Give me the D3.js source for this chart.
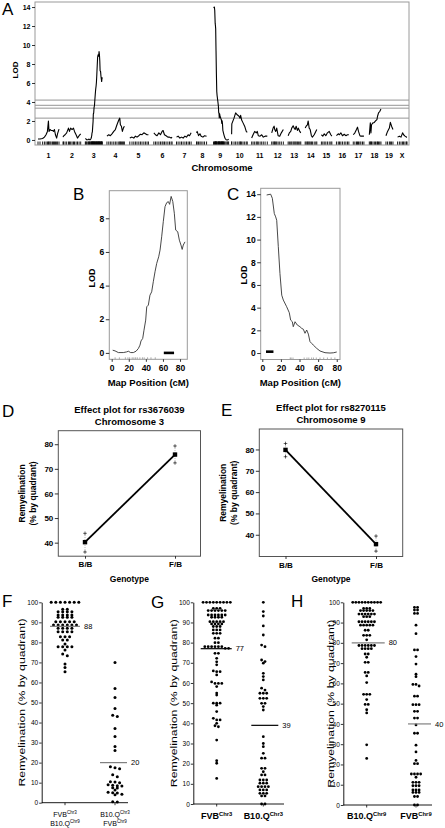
<!DOCTYPE html>
<html><head><meta charset="utf-8">
<script src="https://cdn.jsdelivr.net/npm/d3@7"></script>
<style>
body{margin:0;background:#fff;}
svg{display:block;}
</style></head><body>
<svg id="fig" width="445" height="828"></svg>
<script>
// ---------------- DATA ----------------
const chromNames = ["1","2","3","4","5","6","7","8","9","10","11","12","13","14","15","16","17","18","19","X"];
const chromLengths = [105,90,86,90,100,100,80,60,75,80,80,60,65,60,55,65,55,65,40,50];
const lodTicksA = [0,2,4,6,8,10,12,14];
const thresholds = [4.2, 3.65, 3.35, 2.3];

const lodChr1 = [[0,0.1],[10,0.1],[23,0.15],[32,0.3],[40,0.55],[47,0.9],[52,2.0],[55,0.9],[60,1.1],[65,1.0],[72,1.0],[77,0.9],[82,1.1],[87,0.55],[93,0.2],[98,0.7],[105,1.15]];
const lodChr2 = [[0,0.3],[2,0.4],[10,0.55],[18,0.75],[27,1.25],[32,0.9],[38,1.25],[45,1.1],[52,1.25],[57,0.9],[65,0.55],[72,0.2],[80,0.45],[88,0.65]];
const lodChr3 = [[1.2,0.16],[3.9,0.12],[7.8,0.02],[13.6,0.02],[17.5,0.06],[19.5,0.1],[22.2,0.02],[25.3,0.02],[28.5,0.1],[31.2,0.26],[33.1,0.46],[34.3,0.71],[36.3,0.86],[37.8,1.35],[39.8,1.95],[41,2.74],[42.9,2.84],[44.8,3.43],[46.8,3.63],[48.7,4.23],[50.7,4.82],[52.7,5.32],[55,5.71],[56.6,6.11],[58.5,6.9],[60.4,7.8],[62.4,8.69],[64.4,8.93],[66.3,8.99],[67.8,8.83],[69.6,9.3],[71.5,9.0],[73.3,8.3],[74.9,7.3],[77.3,7.2],[79.2,6.7],[81.1,6.41],[82.5,6.15],[83.8,6.41],[85.8,6.6]];
const lodChr4 = [[3,0.4],[12,0.55],[20,0.45],[28,0.65],[37,0.9],[45,1.1],[53,1.6],[62,2.1],[67,2.3],[70,1.6],[75,1.45],[80,0.9],[85,1.25],[90,1.45]];
const lodChr5 = [[7,0.2],[18,0.3],[27,0.2],[35,0.4],[43,0.3],[52,0.45],[60,0.6],[68,0.55],[77,0.75],[85,0.65],[93,0.55],[100,0.55]];
const lodChr6 = [[7,0.75],[15,0.55],[23,0.45],[32,0.75],[40,0.55],[48,0.9],[53,1.0],[60,0.55],[68,0.45],[77,0.3],[85,0.3],[93,0.2],[98,0.3]];
const lodChr7 = [[0,0.3],[8,0.4],[17,0.2],[25,0.3],[33,0.2],[42,0.4],[50,0.3],[58,0.55],[65,0.45],[73,0.75]];
const lodChr8 = [[0,0.75],[3,0.9],[10,0.45],[17,0.65],[23,0.4],[32,0.3],[40,0.45],[50,0.4]];
const lodChr9 = [[4.7,13.93],[9,14.0],[10.8,13.64],[12.9,12.3],[14.4,12.0],[15.5,11.7],[17.2,9.4],[19,7.0],[20.9,5.1],[22.6,4.67],[26.2,4.08],[29,3.56],[30.5,2.9],[32.3,2.76],[33.3,2.32],[35.2,2.76],[37.6,2.47],[40.5,2.32],[42.4,2.17],[44.1,2.1],[45.9,1.74],[47.7,2.03],[49.5,1.67],[51.3,1.0],[53.1,0.85],[54.8,0.7],[58.5,0.41],[62,0.18],[67.4,0.03],[72.8,0.0],[76.3,0.02],[80,0.09]];
const lodChr10 = [[0,0.6],[1,1.7],[12,2.3],[20,2.85],[28,2.65],[37,2.5],[42,2.3],[45,2.6],[50,2.1],[57,1.8],[65,1.45],[73,0.9],[78,0.8]];
const lodChr11 = [[0,0.2],[7,0.55],[15,0.9],[23,0.75],[28,0.9],[33,0.45],[42,0.4],[50,0.55],[58,0.3],[67,0.4],[78,0.4]];
const lodChr12 = [[0,0.75],[7,1.25],[12,1.45],[15,1.1],[20,0.9],[25,1.25],[32,0.45],[40,0.4],[48,0.75],[58,1.1]];
const lodChr13 = [[2,0.45],[8,0.75],[15,0.9],[20,1.25],[27,1.5],[32,1.25],[37,1.1],[42,1.45],[48,1.0],[53,1.25],[60,0.9],[65,0.75]];
const lodChr14 = [[2,1.25],[7,1.45],[13,1.6],[17,2.0],[22,1.25],[27,1.1],[33,0.45],[38,0.3],[47,0.55],[55,0.9],[60,1.1]];
const lodChr15 = [[3,0.55],[10,0.4],[17,0.65],[25,0.45],[33,0.75],[42,0.9],[50,0.55],[55,0.4]];
const lodChr16 = [[3,0.45],[12,0.65],[18,0.55],[25,0.75],[33,0.45],[42,0.6],[50,0.45],[58,0.55],[65,0.55]];
const lodChr17 = [[2,0.55],[10,0.75],[18,1.1],[23,1.35],[28,0.9],[35,0.45],[40,0.4],[48,0.4],[55,0.4]];
const lodChr18 = [[7,0.55],[12,1.8],[15,0.75],[18,1.6],[25,1.8],[32,1.85],[38,2.0],[45,2.15],[48,2.5],[53,2.85],[59,3.0],[65,3.25]];
const lodChr19 = [[5,0.45],[13,0.9],[22,1.25],[27,1.85],[33,1.45],[40,1.1]];
const lodChrX = [[3,0.3],[12,0.4],[20,0.3],[28,0.75],[33,0.55],[40,0.4],[47,0.3],[50,0.3]];
const lodByChrom = [lodChr1,lodChr2,lodChr3,lodChr4,lodChr5,lodChr6,lodChr7,lodChr8,lodChr9,lodChr10,lodChr11,lodChr12,lodChr13,lodChr14,lodChr15,lodChr16,lodChr17,lodChr18,lodChr19,lodChrX];

const mapTicks = [0,20,40,60,80];
const lodTicksB = [0,2,4,6,8];
const lodTicksC = [0,2,4,6,8,10,12,14];
const markersB = [4,9,16,19,21,24,26,28,30,33,36,38,42,46,51];
const markersC = [30,31,33,45,48,50,53,55,58,62,66,70,74,78];
const intervalB = [61,73];
const intervalC = [4,12];

const genotypes = ["B/B","F/B"];
const effectTicks = [40,50,60,70,80];
const effMean3 = [40.2, 75.8], effLow3 = [36.2, 72.4], effHigh3 = [43.8, 79.3];
const effMean9 = [79.8, 35.6], effLow9 = [76.6, 32.3], effHigh9 = [82.8, 39.4];

const dotTicks = [0,10,20,30,40,50,60,70,80,90,100];
const fLabels = [["FVB","Chr3","B10.Q","Chr9"],["B10.Q","Chr3","FVB","Chr9"]];
const fVals1 = [100,100,100,100,100,100,100,96.5,96.5,95.3,95.3,95.3,95.3,93.7,93.7,93.7,93.7,92.5,92.5,92.5,92.5,90.3,90.3,90.3,90.3,90.3,88.7,88.7,88.7,88.7,88.7,88.7,87,87,87,87,85.3,85.3,85.3,85.3,82.8,82.8,82.8,81.2,81.2,79.2,77.8,77.8,77.8,77.8,76.2,74.2,73.3,69.2,67.5,65.3];
const fVals2 = [70,57,52.5,47,43.7,43,37,33,28,26,18,17.5,17,14,13,10.5,10.3,10,9,8.7,8.5,8.3,7.5,7.3,6.3,5.2,5,4.8,4.2,4,0.5,0.3];
const fMeans = [88,20];
const gLabels = [["FVB","Chr3"],["B10.Q","Chr3"]];
const gVals1 = [100,100,100,100,100,100,100,100,100,97,97,97,95.9,95.9,95.9,95.9,95.9,95.9,93.7,93.7,93.7,93.7,93.7,93.7,92.6,92.6,92.6,92.6,90.4,90.4,90.4,90.4,90.4,89.3,89.3,89.3,89.3,88,88,88,86.3,86.3,86.3,84.6,84.6,84.6,82.2,82.2,80,80,78,78,78,78,78,78,77.2,77.2,74.7,74.7,72.2,70.5,69,66,65.6,65.6,64,60.5,59.8,59.8,59.8,58.2,55,54,50,50,50,49,45.8,42.5,41.7,41.7,40,38.8,38.3,31.7,21.5,20.2,12.7];
const gVals2 = [100,95.4,93.2,88.3,83.8,78.8,78,71.4,70.6,69.8,64.8,63.2,61.5,57.4,56.5,54.9,54.9,54.9,52.4,52.4,52.4,49.9,49.9,48.3,46.6,33.4,30,28.4,25.1,22.7,22.7,17.7,17.7,16,14.4,14.4,11.9,11.9,11.9,10.3,10.3,10.3,8.6,8.6,8.6,8.6,7,7,7,5.3,5.3,5.3,4,4,0,0];
const gMeans = [77,39];
const hLabels = [["B10.Q","Chr9"],["FVB","Chr9"]];
const hVals1 = [100,100,100,100,100,100,100,100,100,100,97,97,97,95.9,95.9,95.9,95.9,95.9,94.2,94.2,94.2,94.2,94.2,94.2,92.9,92.9,92.9,90.4,90.4,90.4,90.4,90.4,90.4,88.7,88.7,88.7,88.7,88.7,86.2,86.2,83.7,83.7,83.7,81.5,78.7,78.7,78.7,78.7,78.7,78.7,77.1,77.1,77.1,77.1,74.5,74.5,72.9,70.4,70.4,65.4,65.4,63.7,60.4,54.6,54.6,54.6,52,49.6,49.6,47,45.4,29.7,23];
const hVals2 = [97.5,97.5,96.2,96.2,94.5,94.5,88.7,84.5,76.5,76.5,73.2,69.5,64.5,63.3,59.5,59.5,58.7,53.7,53.7,49.5,49.5,49.5,46.2,46.2,42.9,42.9,39.5,35.4,35.4,29.5,26.2,22,20.4,20.4,15.3,15.3,15.3,15.3,13.7,11.2,11.2,11.2,9.5,9.5,9.5,7.4,7.4,7.4,6.2,6.2,6.2,4.2,4.2,0,0];
const hMeans = [80,40];

// ---------------- DRAW ----------------
const FONT = '"Liberation Sans", Arial, Helvetica, sans-serif';
const svg = d3.select("#fig").attr("font-family", FONT);

function txt(g, x, y, s, size, opt = {}) {
  const t = g.append("text").attr("x", x).attr("y", y).text(s)
    .attr("font-size", size).attr("fill", "#000")
    .attr("text-anchor", opt.anchor || "start")
    .attr("font-weight", opt.weight || "normal");
  if (opt.rotate) t.attr("transform", `rotate(-90,${x},${y})`);
  return t;
}
function styleAxis(a, size, weight) {
  a.attr("font-family", FONT).attr("font-size", size).attr("font-weight", weight || "bold");
  a.selectAll("line").attr("stroke", "#000").attr("stroke-width", 0.8);
}

// Panel letters
[["A",2,15],["B",73,200],["C",227,200],["D",2,417],["E",221,416],["F",2,607],["G",151,608],["H",291,607]]
  .forEach(([s,x,y]) => txt(svg, x, y, s, 17));

// ---- Panel A ----
(function(){
  const g = svg.append("g");
  const gap = 20;
  const offsets = [];
  let acc = 0;
  chromLengths.forEach(L => { offsets.push(acc); acc += L + gap; });
  const total = acc - gap;
  const x = d3.scaleLinear().domain([0, total]).range([38, 407]);
  const y = d3.scaleLinear().domain([-0.53, 14.53]).range([145, 2]);

  g.selectAll("line.thr").data(thresholds).join("line").attr("class","thr")
    .attr("x1", 35).attr("x2", 409).attr("y1", d => y(d)).attr("y2", d => y(d))
    .attr("stroke", "#7a7a7a").attr("stroke-width", 0.8);

  const line = d3.line();
  lodByChrom.forEach((pts, i) => {
    g.append("path").attr("fill","none").attr("stroke","#000").attr("stroke-width",1.1)
      .attr("stroke-linejoin","round")
      .attr("d", line.x(d => x(offsets[i] + d[0])).y(d => y(d[1]))(pts));
    g.selectAll(null).data(pts).join("line")
      .attr("x1", d => x(offsets[i] + d[0])).attr("x2", d => x(offsets[i] + d[0]))
      .attr("y1", 141.5).attr("y2", 145).attr("stroke","#000").attr("stroke-width",0.9);
  });

  g.append("rect").attr("x",35).attr("y",2).attr("width",374).attr("height",143)
    .attr("fill","none").attr("stroke","#9a9a9a").attr("stroke-width",1);

  const ay = g.append("g").attr("transform","translate(35,0)")
    .call(d3.axisLeft(y).tickValues(lodTicksA).tickSize(3).tickPadding(1.5));
  ay.select(".domain").remove();
  styleAxis(ay, 7);

  g.selectAll("text.chr").data(chromNames).join("text").attr("class","chr")
    .attr("x", (d,i) => x(offsets[i] + chromLengths[i]/2)).attr("y", 157.5)
    .attr("text-anchor","middle").attr("font-size",7).attr("font-weight","bold").text(d => d);

  txt(g, 222, 171, "Chromosome", 9.5, {anchor:"middle", weight:"bold"});
  txt(g, 18, 70, "LOD", 8, {anchor:"middle", weight:"bold", rotate:true});
})();

// ---- Panels B, C ----
function drawMap(o) {
  const g = svg.append("g");
  const x = d3.scaleLinear().domain(o.xd).range([o.x0, o.x1]);
  const y = d3.scaleLinear().domain(o.yd).range([o.y0, o.y1]);
  g.append("path").attr("fill","none").attr("stroke","#333").attr("stroke-width",0.9)
    .attr("d", d3.line().x(d => x(d[0])).y(d => y(d[1]))(o.data));
  g.selectAll("line.rug").data(o.markers).join("line").attr("class","rug")
    .attr("x1", d => x(d)).attr("x2", d => x(d)).attr("y1", o.y0 - 2).attr("y2", o.y0)
    .attr("stroke","#777").attr("stroke-width",0.6);
  g.append("line").attr("x1", x(o.interval[0])).attr("x2", x(o.interval[1]))
    .attr("y1", y(o.intY)).attr("y2", y(o.intY)).attr("stroke","#000").attr("stroke-width",2.6);
  g.append("rect").attr("x",o.x0).attr("y",o.y1).attr("width",o.x1-o.x0).attr("height",o.y0-o.y1)
    .attr("fill","none").attr("stroke","#9a9a9a").attr("stroke-width",1);
  const ay = g.append("g").attr("transform",`translate(${o.x0},0)`)
    .call(d3.axisLeft(y).tickValues(o.yticks).tickSize(3.5).tickPadding(1.5));
  ay.select(".domain").remove();
  styleAxis(ay, 8.5);
  const ax = g.append("g").attr("transform",`translate(0,${o.y0})`)
    .call(d3.axisBottom(x).tickValues(mapTicks).tickSize(2.5).tickPadding(3));
  ax.select(".domain").remove();
  styleAxis(ax, 8.5);
  txt(g, (o.x0+o.x1)/2, 385.5, "Map Position (cM)", 9.5, {anchor:"middle", weight:"bold"});
  txt(g, o.lodX, o.lodY, "LOD", 9, {anchor:"middle", weight:"bold", rotate:true});
}
drawMap({data: lodChr3, xd:[-2.8,88.5], x0:109.3, x1:187.3, yd:[-0.38,9.64], y0:359.3, y1:190.7,
  yticks: lodTicksB, markers: markersB, interval: intervalB, intY: 0, lodX: 95, lodY: 278});
drawMap({data: lodChr9, xd:[-1.7,83.5], x0:260.7, x1:340, yd:[-0.57,14.52], y0:359.5, y1:188.3,
  yticks: lodTicksC, markers: markersC, interval: intervalC, intY: 0.12, lodX: 247, lodY: 275});

// ---- Panels D, E ----
function drawEffect(o) {
  const g = svg.append("g");
  const x = d3.scalePoint().domain(genotypes).range([o.c0, o.c1]);
  const y = d3.scaleLinear().domain(o.yd).range([o.y0, o.y1]);
  g.append("rect").attr("x",o.x0).attr("y",o.y1).attr("width",o.x1-o.x0).attr("height",o.y0-o.y1)
    .attr("fill","none").attr("stroke","#555").attr("stroke-width",1);
  const ay = g.append("g").attr("transform",`translate(${o.x0},0)`)
    .call(d3.axisLeft(y).tickValues(effectTicks).tickSize(3.5).tickPadding(1.5));
  ay.select(".domain").remove();
  styleAxis(ay, 8);
  const ax = g.append("g").attr("transform",`translate(0,${o.y0})`)
    .call(d3.axisBottom(x).tickSize(2.5).tickPadding(3));
  ax.select(".domain").remove();
  styleAxis(ax, 8);
  genotypes.forEach((gt, i) => {
    g.append("line").attr("x1", x(gt)).attr("x2", x(gt)).attr("y1", y(o.low[i])).attr("y2", y(o.high[i]))
      .attr("stroke","#999").attr("stroke-width",0.7).attr("stroke-dasharray","1,1");
    [o.low[i], o.high[i]].forEach(v => {
      g.append("path").attr("d", `M${x(gt)-1.8},${y(v)}H${x(gt)+1.8}M${x(gt)},${y(v)-1.8}V${y(v)+1.8}`)
        .attr("stroke","#000").attr("stroke-width",0.6);
    });
  });
  g.append("path").attr("fill","none").attr("stroke","#000").attr("stroke-width",1.8)
    .attr("d", d3.line().x((d,i) => x(genotypes[i])).y(d => y(d))(o.mean));
  g.selectAll("rect.m").data(o.mean).join("rect").attr("class","m")
    .attr("x",(d,i) => x(genotypes[i]) - 2.2).attr("y", d => y(d) - 2.2).attr("width",4.4).attr("height",4.4).attr("fill","#000");
  const cx = (o.x0 + o.x1)/2;
  txt(g, cx, o.t1, o.title1, 9.5, {anchor:"middle", weight:"bold"});
  txt(g, cx, o.t1 + 12, o.title2, 9.5, {anchor:"middle", weight:"bold"});
  txt(g, cx, 582, "Genotype", 8.5, {anchor:"middle", weight:"bold"});
  const my = (o.y0 + o.y1)/2;
  txt(g, o.x0 - 33, my, "Remyelination", 8.5, {anchor:"middle", weight:"bold", rotate:true});
  txt(g, o.x0 - 22, my, "(% by quadrant)", 8.5, {anchor:"middle", weight:"bold", rotate:true});
}
drawEffect({x0:58.3, x1:200.5, y0:556.2, y1:430.7, yd:[34.5,85.5], c0:85, c1:175,
  mean: effMean3, low: effLow3, high: effHigh3, title1:"Effect plot for rs3676039", title2:"Chromosome 3", t1:413});
drawEffect({x0:259.3, x1:402.7, y0:556.5, y1:429, yd:[29.8,89.6], c0:285.5, c1:376,
  mean: effMean9, low: effLow9, high: effHigh9, title1:"Effect plot for rs8270115", title2:"Chromosome 9", t1:411});

// ---- Panels F, G, H ----
function swarm(vals, y, sx, tol) {
  const pts = vals.map(v => ({v, py: y(v)})).sort((a,b) => b.v - a.v);
  const rows = [];
  pts.forEach(p => {
    const r = rows[rows.length - 1];
    if (r && Math.abs(p.py - r[0].py) < tol) r.push(p); else rows.push([p]);
  });
  rows.forEach(r => r.forEach((p, j) => { p.dx = (j - (r.length - 1)/2) * sx; }));
  return pts;
}
function drawDot(o) {
  const g = svg.append("g");
  const y = d3.scaleLinear().domain([0,100]).range([o.y0, o.y100]);
  const x = d3.scalePoint().domain([0,1]).range([o.c1, o.c2]);
  const ay = g.append("g").attr("transform",`translate(${o.ax},0)`)
    .call(d3.axisLeft(y).tickValues(dotTicks).tickSize(2.5).tickSizeOuter(0).tickPadding(1));
  ay.select(".domain").attr("stroke","#000").attr("stroke-width",0.9);
  styleAxis(ay, 6.5, "normal");
  g.append("line").attr("x1", o.ax).attr("x2", o.axEnd).attr("y1", o.y0).attr("y2", o.y0)
    .attr("stroke","#000").attr("stroke-width",0.9);
  [0,1].forEach(i => g.append("line").attr("x1", x(i)).attr("x2", x(i)).attr("y1", o.y0).attr("y2", o.y0 + 2.5)
    .attr("stroke","#000").attr("stroke-width",0.8));
  [o.v1, o.v2].forEach((vals, i) => {
    const pts = swarm(vals, y, o.sx, o.tol);
    g.selectAll(null).data(pts).join("circle")
      .attr("cx", d => x(i) + d.dx).attr("cy", d => d.py).attr("r", o.r).attr("fill","#000");
    g.append("line").attr("x1", x(i) - o.mw[i][0]).attr("x2", x(i) + o.mw[i][1])
      .attr("y1", y(o.means[i])).attr("y2", y(o.means[i]))
      .attr("stroke", o.meanColor).attr("stroke-width", 1.2);
    txt(g, x(i) + o.mw[i][1] + 4, y(o.means[i]) + 2.6, String(o.means[i]), 7.5);
  });
  // category labels
  o.labels.forEach((lab, i) => {
    for (let k = 0; k < lab.length; k += 2) {
      const t = g.append("text").attr("x", x(i)).attr("y", o.labY + (k/2) * o.labGap)
        .attr("text-anchor","middle").attr("font-size", o.labSize).attr("font-weight", o.labWeight);
      t.append("tspan").text(lab[k]);
      t.append("tspan").attr("dy", -o.labSize*0.38).attr("font-size", o.labSize*0.65).text(lab[k+1]);
    }
  });
  const t = txt(g, o.ylX, (o.y0 + o.y100)/2, "Remyelination (% by quadrant)", 9.5, {anchor:"middle", rotate:true});
  t.attr("textLength", 168).attr("lengthAdjust","spacingAndGlyphs");
}
drawDot({ax:41.7, axEnd:128, c1:65, c2:115, y0:802.7, y100:602.3, v1:fVals1, v2:fVals2, means:fMeans,
  sx:4.6, tol:2.2, r:1.5, mw:[[15,15],[15,12]], meanColor:"#808080", labels:fLabels, labY:817, labGap:9,
  labSize:7, labWeight:"normal", ylX:25});
drawDot({ax:193.3, axEnd:284, c1:216.7, c2:263.3, y0:804, y100:602.3, v1:gVals1, v2:gVals2, means:gMeans,
  sx:3.4, tol:2.0, r:1.4, mw:[[16,15],[12,15]], meanColor:"#000", labels:gLabels, labY:819, labGap:9,
  labSize:9, labWeight:"bold", ylX:177});
drawDot({ax:343.3, axEnd:432, c1:366.7, c2:416, y0:805, y100:602.3, v1:hVals1, v2:hVals2, means:hMeans,
  sx:3.1, tol:2.0, r:1.4, mw:[[15,18],[8,15]], meanColor:"#808080", labels:hLabels, labY:819, labGap:9,
  labSize:9, labWeight:"bold", ylX:334});
</script></body></html>
